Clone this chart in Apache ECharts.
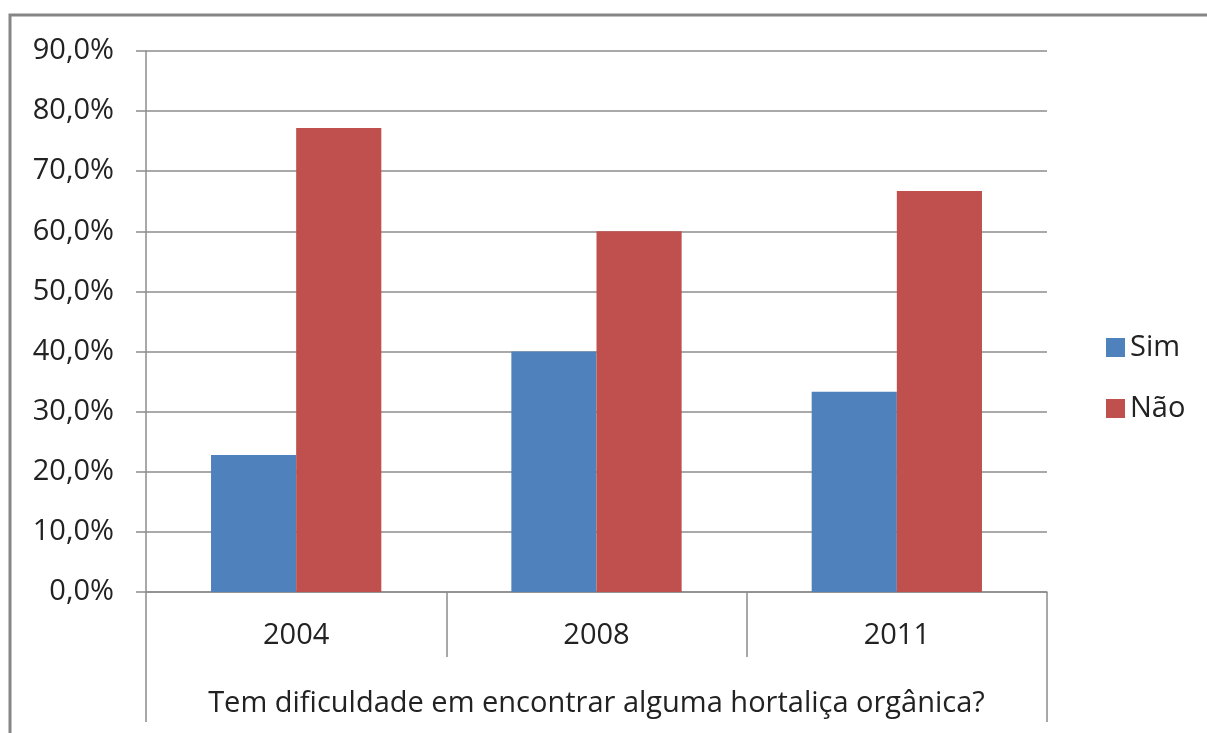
<html>
<head>
    <meta charset='utf-8'>
    <script src='https://cdn.jsdelivr.net/npm/echarts@6/dist/echarts.min.js'></script>
    <style>
        html, body, #main {
            width: 100%;
            height: 100%;
            margin: 0;
            background: #fff;
        }
    </style>
</head>
<body>
<div id='main'></div>
<script>
    var anos = ['2004', '2008', '2011'];
    var sim = [22.8, 40.0, 33.3];
    var nao = [77.2, 60.0, 66.7];
    var pergunta = ['Tem dificuldade em encontrar alguma hortaliça orgânica?'];

    var fonte = 'Open Sans';
    var cinza = '#8c8c8c';

    var myChart = echarts.init(document.getElementById('main'));
    myChart.setOption({
        animation: false,
        backgroundColor: '#fff',
        textStyle: { fontFamily: fonte },
        graphic: [{
            type: 'rect',
            shape: { x: 10, y: 15, width: 1400, height: 900 },
            style: { fill: null, stroke: '#868686', lineWidth: 3 }
        }],
        legend: {
            orient: 'vertical',
            left: 1101,
            top: 328,
            itemWidth: 19,
            itemHeight: 19,
            itemGap: 32,
            icon: 'rect',
            textStyle: { fontSize: 29, color: '#222', fontFamily: fonte },
            data: ['Sim', 'Não']
        },
        grid: {
            left: 146,
            right: 160,
            top: 51,
            bottom: 141,
            containLabel: false
        },
        xAxis: [{
            type: 'category',
            data: anos,
            axisLine: { lineStyle: { color: cinza, width: 1.5 } },
            axisTick: { show: true, length: 65, interval: 0, lineStyle: { color: cinza, width: 1.5 } },
            axisLabel: { fontSize: 29, color: '#222', margin: 29 }
        }, {
            type: 'category',
            data: pergunta,
            position: 'bottom',
            axisLine: { show: false },
            axisTick: { show: true, length: 130, interval: 0, lineStyle: { color: cinza, width: 1.5 } },
            axisLabel: { fontSize: 29, color: '#222', margin: 97 }
        }],
        yAxis: {
            type: 'value',
            min: 0,
            max: 90,
            interval: 10,
            axisLine: { show: true, lineStyle: { color: cinza, width: 1.5 } },
            axisTick: { show: true, length: 10, lineStyle: { color: cinza, width: 1.5 } },
            splitLine: { lineStyle: { color: cinza, width: 1.5 } },
            axisLabel: {
                fontSize: 29,
                color: '#222',
                margin: 32,
                formatter: function (v) {
                    return v.toFixed(1).replace('.', ',') + '%';
                }
            }
        },
        series: [{
            name: 'Sim',
            type: 'bar',
            data: sim,
            barGap: 0,
            barCategoryGap: '43.3%',
            itemStyle: { color: '#4f81bd' }
        }, {
            name: 'Não',
            type: 'bar',
            data: nao,
            barGap: 0,
            barCategoryGap: '43.3%',
            itemStyle: { color: '#c0504d' }
        }]
    });
</script>
</body>
</html>
